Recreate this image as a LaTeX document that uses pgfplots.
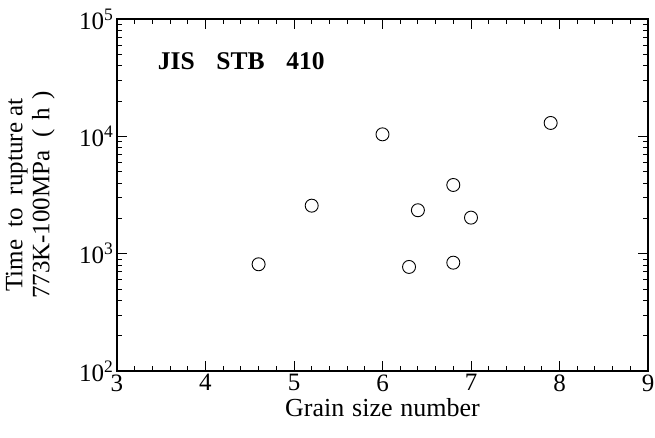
\documentclass[border=0pt]{standalone}
\usepackage{fontspec}
\setmainfont{Liberation Serif}
\usepackage{pgfplots}
\pgfplotsset{compat=1.18}

\begin{document}
\begin{tikzpicture}
\begin{axis}[
  scale only axis,
  width=531pt, height=352pt,
  xmin=3, xmax=9,
  ymode=log, ymin=100, ymax=100000,
  xtick={3,4,5,6,7,8,9},
  xticklabels={3,4,5,6,7,8,9},
  minor x tick num=4,
  ytick={100,1000,10000,100000},
  yticklabels={10\textsuperscript{2},10\textsuperscript{3},10\textsuperscript{4},10\textsuperscript{5}},
  tick align=inside,
  major tick length=10pt,
  minor tick length=5pt,
  every tick/.style={black, line width=0.9pt},
  axis line style={line width=1.4pt},
  tick label style={font=\fontsize{25}{27}\selectfont},
  xlabel style={at={(axis description cs:0.5,-0.128)}, anchor=base, inner sep=0pt, font=\fontsize{26}{28}\selectfont},
  ylabel style={at={(axis description cs:-0.117,0.5)}, anchor=south, inner sep=0pt, align=center, font=\fontsize{25}{27}\selectfont},
  xlabel={Grain\hspace{0.3em}size\hspace{0.3em}number},
  ylabel={Time\hspace{0.5em}to\hspace{0.5em}rupture at\\773K-100MPa\hspace{0.5em}(\hspace{0.35em}h\hspace{0.35em})},
]
\addplot[only marks, mark=o, mark size=6.5pt, mark options={line width=0.9pt, black}] table {
x y
4.6 812
5.2 2565
6.0 10400
6.3 771
6.4 2345
6.8 3850
6.8 838
7.0 2028
7.9 13000
};
\node[anchor=west, inner sep=0pt, font=\fontsize{25.5}{27}\selectfont\bfseries] at (axis cs:3.46,44000) {JIS\hspace{0.85em}STB\hspace{0.85em}410};
\end{axis}
\pgfresetboundingbox
\path ([xshift=-117pt,yshift=-66pt]current axis.south west) rectangle ([xshift=7pt,yshift=19pt]current axis.north east);
\end{tikzpicture}
\end{document}
